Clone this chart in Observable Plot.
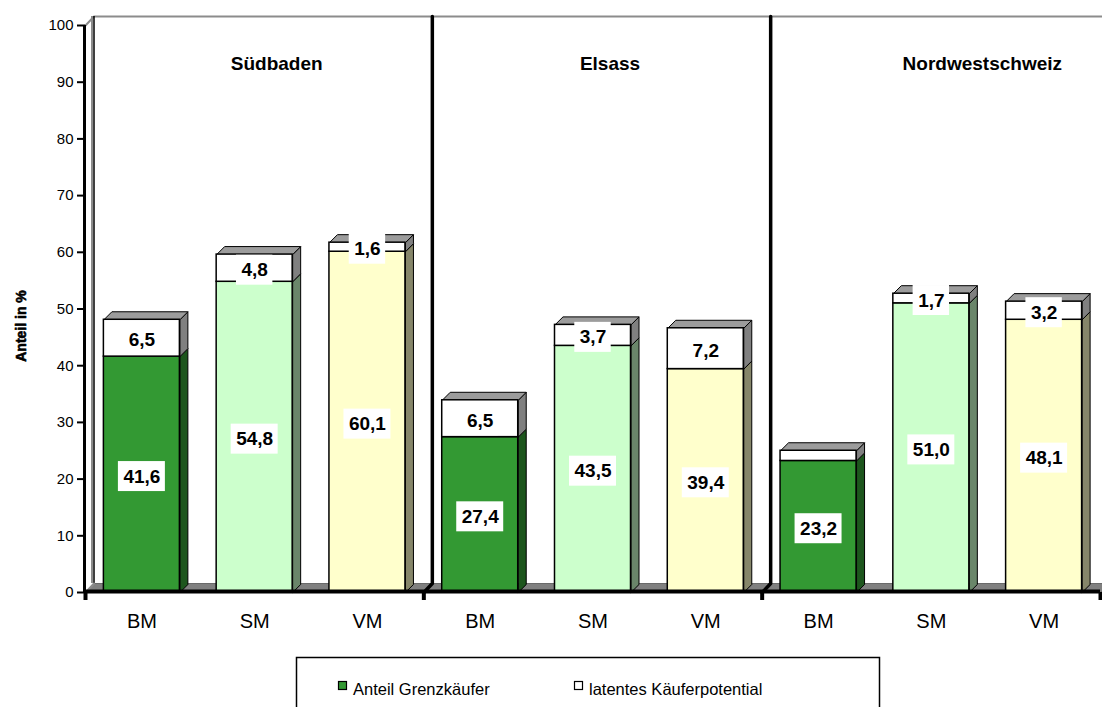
<!DOCTYPE html>
<html>
<head>
<meta charset="utf-8">
<script src="https://cdn.jsdelivr.net/npm/d3@7"></script>
<script src="https://cdn.jsdelivr.net/npm/@observablehq/plot@0.6"></script>
<style>
  body { margin: 0; background: #fff; }
  #wrap { width: 1102px; height: 707px; overflow: hidden; font-family: "Liberation Sans", Arial, sans-serif; }
  #wrap svg { display: block; }
</style>
</head>
<body>
<div id="wrap"></div>
<script>
// ---- data ----
const regions = ["Südbaden", "Elsass", "Nordwestschweiz"];
const markets = ["BM", "SM", "VM"];
const grenzkaeufer = [41.6, 54.8, 60.1, 27.4, 43.5, 39.4, 23.2, 51.0, 48.1];
const latentesPotential = [6.5, 4.8, 1.6, 6.5, 3.7, 7.2, 1.8, 1.7, 3.2];
const latentLabelShown = [true, true, true, true, true, true, false, true, true];
const yTicks = [0, 10, 20, 30, 40, 50, 60, 70, 80, 90, 100];
const seriesNames = ["Anteil Grenzkäufer", "latentes Käuferpotential"];

// ---- styles ----
const frontColor = {BM: "#339933", SM: "#CCFFCC", VM: "#FFFFCC"};
const sideColor = {BM: "#1d561d", SM: "#6a866a", VM: "#86866a"};
const latentFront = "#ffffff", latentSide = "#808080", topColor = "#9c9c9c";
const FONT = "'Liberation Sans', Arial, sans-serif";

// ---- layout ----
const W = 1102, H = 645, mL = 85, mR = 2, mT = 25, mB = 53;
const nSlots = regions.length * markets.length;
const pxX = (W - mL - mR) / nSlots, pxY = (H - mT - mB) / 100;
const fdx = 8.5 / pxX, fdy = 9 / pxY;   // frame depth
const bdx = 8 / pxX, bdy = 8 / pxY;     // bar depth
const hw = 38 / pxX;                    // half bar width

const bars = grenzkaeufer.map((g, i) => ({
  i, c: i + 0.5, g, l: latentesPotential[i], market: markets[i % 3], region: regions[Math.floor(i / 3)]
}));

// polygons for 3D faces
const faces = [];
let pid = 0;
function poly(points, fill) {
  const k = pid++;
  points.concat([points[0]]).forEach(([x, y]) => faces.push({id: k, x, y, fill}));
}
for (const b of bars) {
  const xr = b.c + hw, xl = b.c - hw, t = b.g + b.l;
  poly([[xr, 0], [xr + bdx, bdy], [xr + bdx, b.g + bdy], [xr, b.g]], sideColor[b.market]);
  poly([[xr, b.g], [xr + bdx, b.g + bdy], [xr + bdx, t + bdy], [xr, t]], latentSide);
  poly([[xl, t], [xr, t], [xr + bdx, t + bdy], [xl + bdx, t + bdy]], topColor);
}

// frame pieces
const floor = [[0, 0], [nSlots, 0], [nSlots + fdx, fdy], [fdx, fdy], [0, 0]].map(([x, y]) => ({x, y}));
const topLine = [{x: 0, y: 100}, {x: fdx, y: 100 + fdy}, {x: nSlots + fdx, y: 100 + fdy}];
const dividers = [];
[3, 6].forEach((d, k) => {
  dividers.push({id: k, x: d + fdx, y: 100 + fdy}, {id: k, x: d + fdx, y: fdy}, {id: k, x: d, y: 0});
});

// labels
const canvas = document.createElement("canvas").getContext("2d");
canvas.font = "bold 19px 'Liberation Sans'";
const fmt = v => v.toFixed(1).replace(".", ",");
const labels = [];
bars.forEach((b, i) => {
  labels.push({x: b.c, y: b.g / 2, text: fmt(b.g), kind: "g"});
  if (latentLabelShown[i]) labels.push({x: b.c, y: b.g + b.l / 2, text: fmt(b.l), kind: "l"});
});
labels.forEach(d => { d.w = canvas.measureText(d.text).width; });

const centers = bars.map(b => b.c);
const titleShift = [22, 17, 51];

const chart = Plot.plot({
  width: W, height: H,
  marginLeft: mL, marginRight: mR, marginTop: mT, marginBottom: mB,
  style: {fontFamily: FONT, color: "#000", background: "transparent", overflow: "visible"},
  x: {type: "linear", domain: [0, nSlots], label: null},
  y: {type: "linear", domain: [0, 100], label: null},
  color: {type: "identity"},
  marks: [
    // floor
    Plot.line(floor, {x: "x", y: "y", fill: "#808080", stroke: "#6a6a6a", strokeWidth: 1}),
    // back wall edges
    Plot.line(topLine, {x: "x", y: "y", stroke: "#8c8c8c", strokeWidth: 2}),
    Plot.ruleX([fdx], {y1: fdy, y2: 100 + fdy, stroke: "#8c8c8c", strokeWidth: 2, dx: -2}),
    Plot.ruleX([fdx], {y1: fdy, y2: 100 + fdy, stroke: "#000", strokeWidth: 1.5}),
    Plot.line([{x: 0, y: 0}, {x: fdx, y: fdy}], {x: "x", y: "y", stroke: "#8c8c8c", strokeWidth: 2}),
    // dividers between regions
    Plot.line(dividers, {x: "x", y: "y", z: "id", stroke: "#000", strokeWidth: 3.5}),
    // bars: 3D side/top faces
    Plot.line(faces, {x: "x", y: "y", z: "id", fill: "fill", stroke: "#000", strokeWidth: 1, strokeLinejoin: "round"}),
    // bars: front faces
    Plot.rect(bars, {x1: d => d.c - hw, x2: d => d.c + hw, y1: 0, y2: "g", fill: d => frontColor[d.market], stroke: "#000", strokeWidth: 1.5}),
    Plot.rect(bars, {x1: d => d.c - hw, x2: d => d.c + hw, y1: "g", y2: d => d.g + d.l, fill: latentFront, stroke: "#000", strokeWidth: 1.5}),
    // label boxes + labels
    Plot.rect(labels, {x1: d => d.x - (d.w / 2 + 5) / pxX, x2: d => d.x + (d.w / 2 + 5) / pxX,
      y1: d => d.y - 15 / pxY, y2: d => d.y + 15 / pxY, fill: "#fff", dy: 2}),
    Plot.text(labels, {x: "x", y: "y", text: "text", fontSize: 19, fontWeight: "bold", fill: "#000", dy: 2}),
    // region titles
    ...regions.map((r, k) => Plot.text([r], {x: 3 * k + 1.5, frameAnchor: "top", dy: 31, dx: titleShift[k],
      text: d => d, fontSize: 19, fontWeight: "bold", fill: "#000"})),
    // axes
    Plot.ruleX([0], {y1: 0, y2: 100, stroke: "#000", strokeWidth: 3, dx: -1}),
    Plot.axisY(yTicks, {tickSize: 8, tickPadding: 4, fontSize: 15, strokeWidth: 2, stroke: "#000", fill: "#000", label: null}),
    Plot.ruleY([0], {x1: 0, x2: nSlots, stroke: "#000", strokeWidth: 4, dy: -1}),
    Plot.ruleX([0, 3, 6, 9], {y1: 0, y2: -8 / pxY, stroke: "#000", strokeWidth: 4}),
    Plot.axisX(centers, {tickSize: 0, tickPadding: 21, fontSize: 20, fill: "#000", label: null,
      tickFormat: v => markets[Math.floor(v) % 3]}),
    // y label
    Plot.text(["Anteil in %"], {frameAnchor: "left", rotate: -90, dx: -64, dy: 17, text: d => d,
      textAnchor: "middle", fontSize: 14, fontWeight: "bold", fill: "#000", stroke: "#000", strokeWidth: 0.6,
      fontFamily: "'Liberation Sans Narrow', 'Liberation Sans', Arial, sans-serif"})
  ]
});

const wrap = document.getElementById("wrap");
wrap.appendChild(chart);

// ---- legend (below the chart) ----
const legendColors = [frontColor.BM, latentFront];
const leg = d3.select(wrap).append("svg").attr("width", W).attr("height", 62)
  .style("font-family", FONT);
leg.append("rect").attr("x", 296.5).attr("y", 12.5).attr("width", 583).attr("height", 80)
  .attr("fill", "#fff").attr("stroke", "#000").attr("stroke-width", 1.5);
const itemX = [338, 574];
seriesNames.forEach((n, k) => {
  leg.append("rect").attr("x", itemX[k] + 0.5).attr("y", 36.5).attr("width", 8).attr("height", 8)
    .attr("fill", legendColors[k]).attr("stroke", "#000").attr("stroke-width", 1.2);
  leg.append("text").attr("x", itemX[k] + 15).attr("y", 50).attr("font-size", 16.5).attr("fill", "#000").text(n);
});
</script>
</body>
</html>
